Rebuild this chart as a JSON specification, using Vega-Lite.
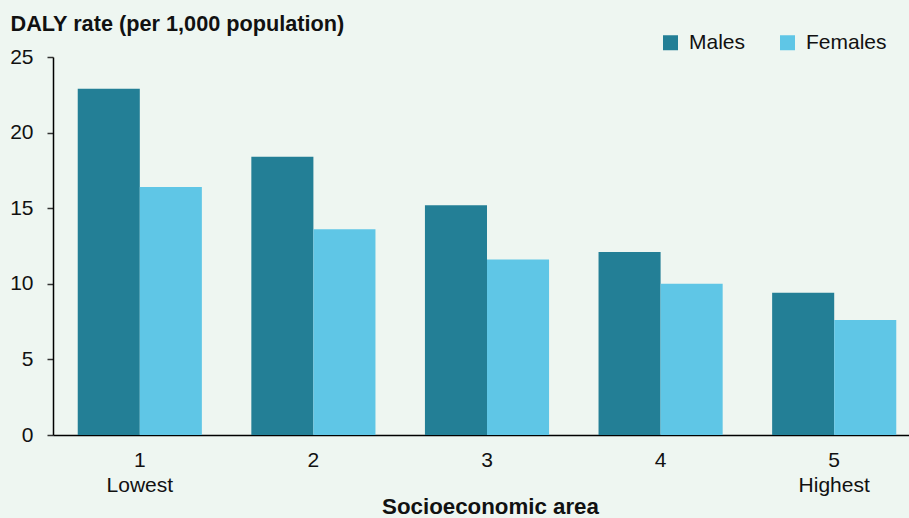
{
  "$schema": "https://vega.github.io/schema/vega-lite/v6.json",
  "autosize": {"type": "none"},
  "padding": {"left": 53, "top": 57, "right": 0, "bottom": 83},
  "width": 868,
  "height": 378,
  "background": "#EEF6F1",
  "config": {
    "font": "Liberation Sans",
    "view": {"stroke": null}
  },
  "data": {
    "values": [
      {"area": "1", "sex": "Males", "rate": 22.9},
      {"area": "1", "sex": "Females", "rate": 16.4},
      {"area": "2", "sex": "Males", "rate": 18.4},
      {"area": "2", "sex": "Females", "rate": 13.6},
      {"area": "3", "sex": "Males", "rate": 15.2},
      {"area": "3", "sex": "Females", "rate": 11.6},
      {"area": "4", "sex": "Males", "rate": 12.1},
      {"area": "4", "sex": "Females", "rate": 10.0},
      {"area": "5", "sex": "Males", "rate": 9.4},
      {"area": "5", "sex": "Females", "rate": 7.6}
    ]
  },
  "mark": {"type": "bar"},
  "encoding": {
    "x": {
      "field": "area",
      "type": "ordinal",
      "scale": {"paddingInner": 0.285, "paddingOuter": 0.1425},
      "axis": {
        "title": "Socioeconomic area",
        "titleFont": "Liberation Sans",
        "titleFontSize": 22.3,
        "titleFontWeight": "bold",
        "titleColor": "#111111",
        "titleBaseline": "alphabetic",
        "titleY": 78,
        "titleX": 437,
        "labelAngle": 0,
        "labelFontSize": 21,
        "labelColor": "#111111",
        "labelPadding": 14,
        "labelLineHeight": 25,
        "labelExpr": "datum.value == '1' ? ['1', 'Lowest'] : datum.value == '5' ? ['5', 'Highest'] : datum.value",
        "ticks": false,
        "domainColor": "#000000",
        "domainWidth": 1.5,
        "grid": false
      }
    },
    "xOffset": {
      "field": "sex",
      "type": "nominal",
      "sort": ["Males", "Females"],
      "scale": {"paddingInner": 0, "paddingOuter": 0}
    },
    "y": {
      "field": "rate",
      "type": "quantitative",
      "scale": {"domain": [0, 25], "nice": false},
      "axis": {
        "title": "DALY rate (per 1,000 population)",
        "titleFontSize": 21.7,
        "titleFontWeight": "bold",
        "titleColor": "#111111",
        "titleAngle": 0,
        "titleAlign": "left",
        "titleBaseline": "alphabetic",
        "titleX": -43,
        "titleY": -27,
        "values": [0, 5, 10, 15, 20, 25],
        "labelFontSize": 21,
        "labelColor": "#111111",
        "labelPadding": 14,
        "tickSize": 6,
        "tickColor": "#333333",
        "tickWidth": 1.5,
        "domainColor": "#000000",
        "domainWidth": 1.5,
        "grid": false
      }
    },
    "color": {
      "field": "sex",
      "type": "nominal",
      "sort": ["Males", "Females"],
      "scale": {"domain": ["Males", "Females"], "range": ["#237F96", "#5FC6E6"]},
      "legend": {
        "title": null,
        "orient": "none",
        "direction": "horizontal",
        "legendX": 607,
        "legendY": -25,
        "symbolType": "square",
        "symbolSize": 225,
        "symbolStrokeWidth": 0,
        "labelFontSize": 21,
        "labelColor": "#111111",
        "labelOffset": 8,
        "columnPadding": 31
      }
    }
  }
}
